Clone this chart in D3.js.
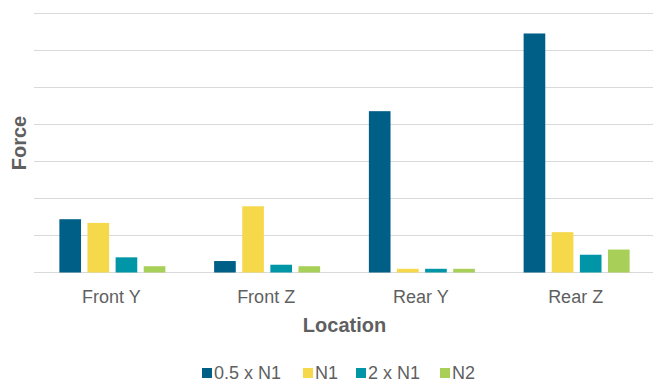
<!DOCTYPE html>
<html>
<head>
<meta charset="utf-8">
<script src="https://cdn.jsdelivr.net/npm/d3@7"></script>
<style>
  html, body { margin: 0; padding: 0; background: #fff; }
  svg { display: block; font-family: "Liberation Sans", Arial, sans-serif; }
</style>
</head>
<body>
<svg id="chart" width="653" height="383"></svg>
<script>
// Locations along the x axis
const categories = ["Front Y", "Front Z", "Rear Y", "Rear Z"];
// Load cases
const seriesNames = ["0.5 x N1", "N1", "2 x N1", "N2"];
const seriesColors = ["#005f87", "#f6d84b", "#0096a7", "#a8cf58"];
// Force per load case, one value per location (relative units)
const halfN1 = [1.44, 0.31, 4.36, 6.46];
const n1 = [1.34, 1.79, 0.10, 1.09];
const twoN1 = [0.41, 0.21, 0.10, 0.48];
const n2 = [0.17, 0.17, 0.10, 0.62];
const gridTicks = [0, 1, 2, 3, 4, 5, 6, 7];

const seriesValues = [halfN1, n1, twoN1, n2];
const rows = categories.map((c, i) => ({
  category: c,
  values: seriesNames.map((s, j) => ({ series: s, value: seriesValues[j][i], color: seriesColors[j] }))
}));

const svg = d3.select("#chart");
const margin = { left: 34, right: 0, top: 13.5, bottom: 110.5 };
const W = 653, H = 383;
const plotBottom = H - margin.bottom;
const textColor = "#5f5f5f";

const x0 = d3.scaleBand().domain(categories).range([margin.left, W - margin.right]).padding(0);
const x1 = d3.scaleBand().domain(seriesNames)
  .range([(x0.bandwidth() - 106) / 2 + 1, (x0.bandwidth() + 106) / 2 + 1])
  .paddingInner(0.23).paddingOuter(0);
const y = d3.scaleLinear().domain([0, 7]).range([plotBottom, margin.top]);

// Horizontal gridlines
svg.append("g")
  .selectAll("line")
  .data(gridTicks)
  .join("line")
  .attr("x1", margin.left).attr("x2", W - margin.right)
  .attr("y1", d => y(d)).attr("y2", d => y(d))
  .attr("stroke", "#d9d9d9").attr("stroke-width", 1.2);

// Grouped bars
const groups = svg.append("g")
  .selectAll("g")
  .data(rows)
  .join("g")
  .attr("transform", d => `translate(${x0(d.category)},0)`);

groups.selectAll("rect")
  .data(d => d.values)
  .join("rect")
  .attr("x", d => x1(d.series))
  .attr("width", x1.bandwidth())
  .attr("y", d => y(d.value))
  .attr("height", d => y(0) - y(d.value))
  .attr("fill", d => d.color);

// Category axis labels
const xAxis = d3.axisBottom(x0).tickSize(0).tickPadding(0);
const gx = svg.append("g").attr("transform", `translate(0,${plotBottom})`).call(xAxis);
gx.select(".domain").remove();
gx.selectAll("text")
  .attr("y", 30).attr("dy", null)
  .attr("font-size", 18)
  .attr("font-family", "Liberation Sans, Arial, sans-serif")
  .attr("fill", textColor);

// Axis titles
svg.append("text")
  .attr("x", (margin.left + W) / 2 + 1).attr("y", 332)
  .attr("text-anchor", "middle")
  .attr("font-size", 20).attr("font-weight", "bold")
  .attr("fill", textColor)
  .text("Location");

svg.append("text")
  .attr("transform", `translate(26,${143}) rotate(-90)`)
  .attr("text-anchor", "middle")
  .attr("font-size", 20).attr("font-weight", "bold")
  .attr("fill", textColor)
  .text("Force");

// Legend
const legendX = [202, 303, 356, 440];
const legend = svg.append("g")
  .selectAll("g")
  .data(seriesNames)
  .join("g")
  .attr("transform", (d, i) => `translate(${legendX[i]},379)`);
legend.append("rect")
  .attr("x", 0).attr("y", -11)
  .attr("width", 10).attr("height", 10)
  .attr("fill", (d, i) => seriesColors[i]);
legend.append("text")
  .attr("x", 12).attr("y", 0)
  .attr("font-size", 18)
  .attr("fill", textColor)
  .text(d => d);
</script>
</body>
</html>
